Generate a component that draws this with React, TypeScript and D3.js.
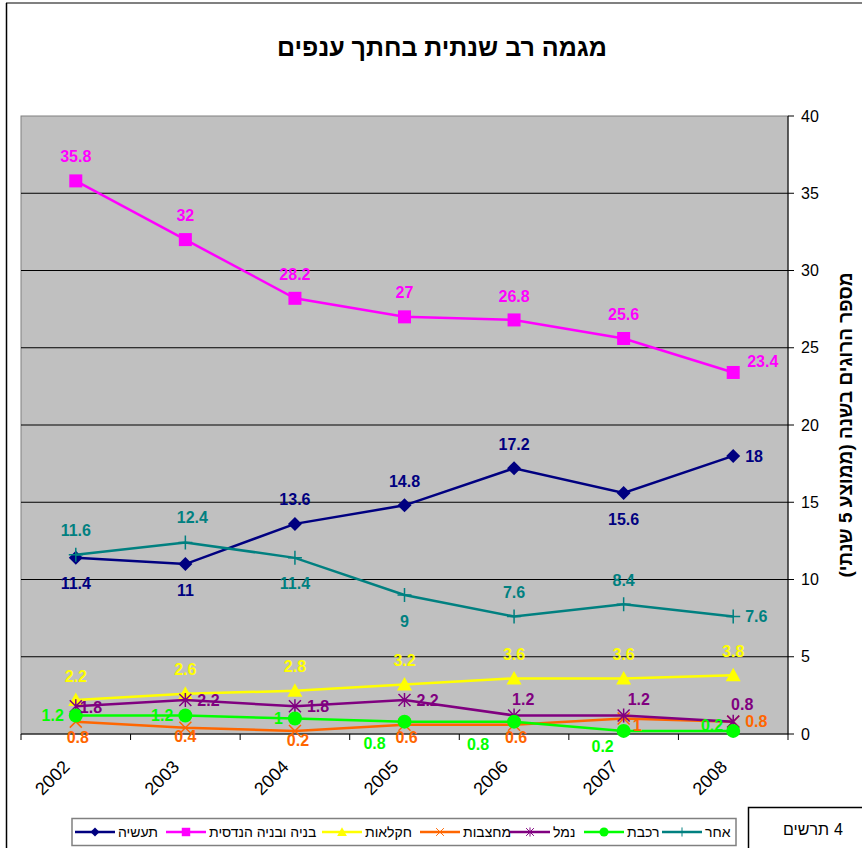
import React from "react";
import * as d3 from "d3";

const years = ["2002", "2003", "2004", "2005", "2006", "2007", "2008"];
const seriesNames = ["תעשיה", "בניה ובניה הנדסית", "חקלאות", "מחצבות", "נמל", "רכבת", "אחר"];
const industry = [11.4, 11, 13.6, 14.8, 17.2, 15.6, 18];
const construction = [35.8, 32, 28.2, 27, 26.8, 25.6, 23.4];
const agriculture = [2.2, 2.6, 2.8, 3.2, 3.6, 3.6, 3.8];
const quarries = [0.8, 0.4, 0.2, 0.6, 0.6, 1, 0.8];
const port = [1.8, 2.2, 1.8, 2.2, 1.2, 1.2, 0.8];
const railway = [1.2, 1.2, 1, 0.8, 0.8, 0.2, 0.2];
const other = [11.6, 12.4, 11.4, 9, 7.6, 8.4, 7.6];
const yTicks = [0, 5, 10, 15, 20, 25, 30, 35, 40];

const title = "מגמה רב שנתית בחתך ענפים";
const yTitle = "מספר הרוגים בשנה (ממוצע 5 שנתי)";
const chartTagWord = "תרשים";
const chartTagNum = "4";

const colors = ["#000080", "#FF00FF", "#FFFF00", "#FF6600", "#800080", "#00FF00", "#008080"];
const markers = ["diamond", "square", "triangle", "x", "star", "circle", "plus"];

type Pl = string | [number, number, string];
const placements: Pl[][] = [
  ["b", "b", "a", "a", "a", "b", "r"],
  ["a", "a", "a", "a", "a", "a", [14, -11, "start"]],
  ["a", "a", "a", "a", "a", "a", "a"],
  [[2, 16, "middle"], [0, 9, "middle"], [3, 9, "middle"], [2, 13, "middle"], [2, 13, "middle"], [9, 7, "start"], [12, 0, "start"]],
  [[4, 1, "start"], "r", "r", "r", [-2, -16, "start"], [4, -16, "start"], [9, -17, "middle"]],
  ["l", "l", "l", [-30, 22, "middle"], [-36, 23, "middle"], [-21, 15, "middle"], [-10, -6, "end"]],
  ["a", [7, -25, "middle"], "b", "b", "a", "a", "r"],
];

const seriesData = [industry, construction, agriculture, quarries, port, railway, other];

const W = 862, H = 848;
const plot = { left: 21, right: 788, top: 116, bottom: 734 };
const FONT = "'Liberation Sans', Arial, sans-serif";

function Marker({ type, x, y, color, s = 1 }: { type: string; x: number; y: number; color: string; s?: number }) {
  const t = `translate(${x},${y}) scale(${s})`;
  switch (type) {
    case "diamond":
      return <path transform={t} d="M0,-7L7,0L0,7L-7,0Z" fill={color} />;
    case "square":
      return <rect transform={t} x={-6.5} y={-6.5} width={13} height={13} fill={color} />;
    case "triangle":
      return <path transform={t} d="M0,-7.5L7.5,6L-7.5,6Z" fill={color} />;
    case "x":
      return <path transform={t} d="M-6,-6L6,6M-6,6L6,-6" stroke={color} strokeWidth={1.5} fill="none" />;
    case "star":
      return <path transform={t} d="M-6,-6L6,6M-6,6L6,-6M0,-7L0,7" stroke={color} strokeWidth={1.5} fill="none" />;
    case "circle":
      return <circle transform={t} r={7} fill={color} />;
    case "plus":
      return <path transform={t} d="M-7,0L7,0M0,-7L0,7" stroke={color} strokeWidth={1.5} fill="none" />;
  }
  return null;
}

export default function App() {
  const x = d3.scaleBand<string>().domain(years).range([plot.left, plot.right]);
  const y = d3.scaleLinear().domain([0, 40]).range([plot.bottom, plot.top]);
  const cx = (yr: string) => (x(yr) as number) + x.bandwidth() / 2;
  const line = d3
    .line<number>()
    .x((_, i) => cx(years[i]))
    .y((d) => y(d));

  const boundaries = years.map((yr) => x(yr) as number).concat([plot.right]);
  const legendLineX = [75, 166, 322, 420, 510, 584, 662];

  return (
    <svg width={W} height={H} style={{ position: "absolute", left: 0, top: 0, background: "#fff" }} fontFamily={FONT}>
      <rect x={0} y={0} width={W} height={H} fill="#fff" />
      {/* outer frame */}
      <line x1={6} x2={W} y1={3} y2={3} stroke="#808080" strokeWidth={2} />
      <line x1={6.5} x2={6.5} y1={3} y2={H} stroke="#000" strokeWidth={1.5} />

      <text x={442} y={56} textAnchor="middle" fontSize={25} fontWeight="bold" fill="#000">
        {title}
      </text>

      {/* plot area */}
      <rect x={plot.left} y={plot.top} width={plot.right - plot.left} height={plot.bottom - plot.top} fill="#C0C0C0" stroke="#808080" strokeWidth={1} />
      {yTicks
        .filter((t) => t > 0 && t < 40)
        .map((t) => (
          <line key={t} x1={plot.left} x2={plot.right} y1={y(t)} y2={y(t)} stroke="#000" strokeWidth={1} />
        ))}

      {/* y axis right */}
      <line x1={plot.right} x2={plot.right} y1={plot.top} y2={plot.bottom} stroke="#000" strokeWidth={1} />
      {yTicks.map((t) => (
        <g key={t}>
          <line x1={plot.right} x2={plot.right + 6} y1={y(t)} y2={y(t)} stroke="#000" />
          <text x={plot.right + 13} y={y(t)} dy="0.35em" fontSize={16} fill="#000">
            {t}
          </text>
        </g>
      ))}
      <text
        transform={`translate(845,${425}) rotate(-90)`}
        textAnchor="middle"
        dy="0.35em"
        direction="rtl"
        fontSize={19}
        fontWeight="bold"
        fill="#000"
      >
        {yTitle}
      </text>

      {/* x axis */}
      <line x1={plot.left} x2={plot.right} y1={plot.bottom} y2={plot.bottom} stroke="#000" strokeWidth={1} />
      {boundaries.map((b, i) => (
        <line key={i} x1={b} x2={b} y1={plot.bottom} y2={plot.bottom + 6} stroke="#000" />
      ))}
      {years.map((yr) => (
        <text key={yr} transform={`translate(${cx(yr) - 5},${768}) rotate(-45)`} textAnchor="end" fontSize={18} fill="#000">
          {yr}
        </text>
      ))}

      {/* series */}
      {seriesData.map((vals, si) => (
        <g key={si}>
          <path d={line(vals) as string} fill="none" stroke={colors[si]} strokeWidth={2.5} />
          {vals.map((v, i) => (
            <Marker key={i} type={markers[si]} x={cx(years[i])} y={y(v)} color={colors[si]} />
          ))}
        </g>
      ))}

      {/* labels */}
      {seriesData.map((vals, si) =>
        vals.map((v, i) => {
          const p = placements[si][i];
          let dx = 0, dy = 0, anchor = "middle";
          if (typeof p === "string") {
            if (p === "a") dy = -24;
            else if (p === "b") dy = 26;
            else if (p === "r") { dx = 12; anchor = "start"; }
            else if (p === "l") { dx = -12; anchor = "end"; }
          } else {
            [dx, dy, anchor] = p;
          }
          return (
            <text
              key={`${si}-${i}`}
              x={cx(years[i]) + dx}
              y={y(v) + dy}
              dy="0.35em"
              textAnchor={anchor}
              fontSize={16}
              fontWeight="bold"
              fill={colors[si]}
            >
              {String(v)}
            </text>
          );
        })
      )}

      {/* legend */}
      <rect x={72} y={818.5} width={664} height={27} fill="#fff" stroke="#808080" strokeWidth={1.5} />
      {seriesNames.map((n, si) => {
        const lx = legendLineX[si];
        return (
          <g key={n}>
            <line x1={lx} x2={lx + 40} y1={832} y2={832} stroke={colors[si]} strokeWidth={2.5} />
            <Marker type={markers[si]} x={lx + 20} y={832} color={colors[si]} s={0.65} />
            <text x={lx + 43} y={832} dy="0.35em" fontSize={14} fill="#000">
              {n}
            </text>
          </g>
        );
      })}

      {/* chart tag box */}
      <rect x={748.5} y={807.5} width={200} height={100} fill="#fff" stroke="#000" strokeWidth={1.5} />
      <text x={829} y={829} dy="0.35em" textAnchor="end" fontSize={16} fill="#000">
        {chartTagWord}
      </text>
      <text x={834} y={829} dy="0.35em" textAnchor="start" fontSize={16} fill="#000">
        {chartTagNum}
      </text>
    </svg>
  );
}
